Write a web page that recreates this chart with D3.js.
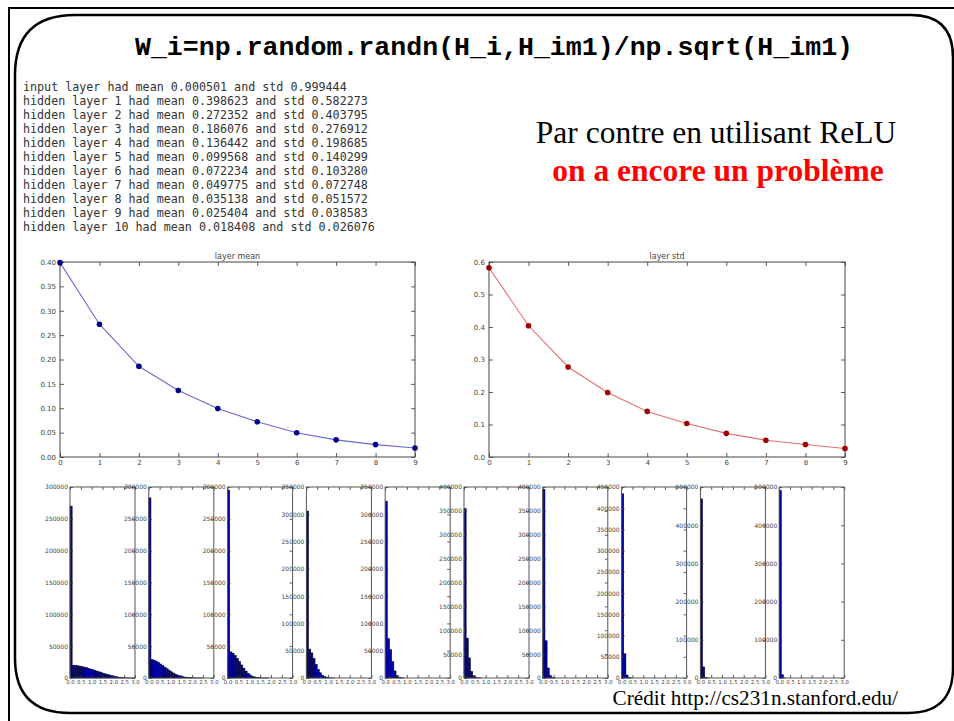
<!DOCTYPE html>
<html><head><meta charset="utf-8">
<script src="https://cdn.jsdelivr.net/npm/d3@7"></script>
<style>body{margin:0;background:#fff}svg{display:block}</style>
</head><body>
<svg id="c" width="954" height="721"></svg>
<script>
// ---------- data ----------
const titleCode = "W_i=np.random.randn(H_i,H_im1)/np.sqrt(H_im1)";
const headline1 = "Par contre en utilisant ReLU";
const headline2 = "on a encore un problème";
const creditText = "Crédit http://cs231n.stanford.edu/";

const inputMean = 0.000501;
const inputStd = 0.999444;
const layerIndex = [0, 1, 2, 3, 4, 5, 6, 7, 8, 9];
const layerNumbers = [1, 2, 3, 4, 5, 6, 7, 8, 9, 10];
const layerMeans = [0.398623, 0.272352, 0.186076, 0.136442, 0.099568, 0.072234, 0.049775, 0.035138, 0.025404, 0.018408];
const layerStds  = [0.582273, 0.403795, 0.276912, 0.198685, 0.140299, 0.103280, 0.072748, 0.051572, 0.038583, 0.026076];

const meanTicks = [0.00, 0.05, 0.10, 0.15, 0.20, 0.25, 0.30, 0.35, 0.40];
const stdTicks = [0.0, 0.1, 0.2, 0.3, 0.4, 0.5, 0.6];
const layerTicks = [0, 1, 2, 3, 4, 5, 6, 7, 8, 9];

const histXTicks = [0.0, 0.5, 1.0, 1.5, 2.0, 2.5, 3.0];
const histBinStarts = [0.0,0.1,0.2,0.3,0.4,0.5,0.6,0.7,0.8,0.9,1.0,1.1,1.2,1.3,1.4,1.5,1.6,1.7,1.8,1.9,2.0,2.1,2.2,2.3,2.4,2.5,2.6,2.7,2.8,2.9];
const histYMax = [300000, 300000, 300000, 350000, 350000, 400000, 400000, 450000, 500000, 500000];
const histYStep = [50000, 50000, 50000, 50000, 50000, 50000, 50000, 50000, 100000, 100000];
const hist1  = [270000,20000,19800,19300,18700,18000,17200,16300,15300,14200,13100,12000,10800,9700,8600,7500,6400,5400,4400,3500,2700,2000,1400,900,500,300,150,80,40,20];
const hist2  = [283000,29000,28000,26500,24500,22000,19500,17000,14500,12000,9800,7800,6000,4500,3300,2300,1600,1000,650,400,250,150,80,40,20,0,0,0,0,0];
const hist3  = [295000,41000,39000,35500,31000,26000,20500,15500,11000,7500,4800,2900,1700,900,450,200,90,40,15,0,0,0,0,0,0,0,0,0,0,0];
const hist4  = [306000,53000,46000,36000,25000,16000,9500,5000,2300,1000,400,150,50,0,0,0,0,0,0,0,0,0,0,0,0,0,0,0,0,0];
const hist5  = [324000,72000,52000,30000,13000,4500,1500,400,100,0,0,0,0,0,0,0,0,0,0,0,0,0,0,0,0,0,0,0,0,0];
const hist6  = [355000,83500,42000,14000,4500,1200,300,80,0,0,0,0,0,0,0,0,0,0,0,0,0,0,0,0,0,0,0,0,0,0];
const hist7  = [395000,78000,21000,5000,900,150,0,0,0,0,0,0,0,0,0,0,0,0,0,0,0,0,0,0,0,0,0,0,0,0];
const hist8  = [434000,57000,7000,800,100,0,0,0,0,0,0,0,0,0,0,0,0,0,0,0,0,0,0,0,0,0,0,0,0,0];
const hist9  = [469000,29000,1800,150,0,0,0,0,0,0,0,0,0,0,0,0,0,0,0,0,0,0,0,0,0,0,0,0,0,0];
const hist10 = [491000,8500,400,0,0,0,0,0,0,0,0,0,0,0,0,0,0,0,0,0,0,0,0,0,0,0,0,0,0,0];
const histCounts = [hist1, hist2, hist3, hist4, hist5, hist6, hist7, hist8, hist9, hist10];

// ---------- drawing ----------
const svg = d3.select("#c");
const TICKFONT = "DejaVu Sans, sans-serif";

// slide frame
svg.append("rect").attr("x", 9).attr("y", 8).attr("width", 980).attr("height", 760)
  .attr("fill", "none").attr("stroke", "#000").attr("stroke-width", 2);
(function () {
  const x0 = 15, y0 = 15, x1 = 953, y1 = 713;
  const tl = 60, tr = 42, br = 45, bl = 55;
  const p = d3.path();
  p.moveTo(x0 + tl, y0);
  p.lineTo(x1 - tr, y0);
  p.quadraticCurveTo(x1, y0, x1, y0 + tr);
  p.lineTo(x1, y1 - br);
  p.quadraticCurveTo(x1, y1, x1 - br, y1);
  p.lineTo(x0 + bl, y1);
  p.quadraticCurveTo(x0, y1, x0, y1 - bl);
  p.lineTo(x0, y0 + tl);
  p.quadraticCurveTo(x0, y0, x0 + tl, y0);
  svg.append("path").attr("d", p.toString()).attr("fill", "none")
    .attr("stroke", "#000").attr("stroke-width", 2.5);
})();

// title
svg.append("text").attr("x", 494).attr("y", 55).attr("text-anchor", "middle")
  .attr("font-family", "Liberation Mono, Courier New, monospace").attr("font-weight", "bold")
  .attr("font-size", 26.6).attr("fill", "#000").text(titleCode);

// console text
const consoleLines = ["input layer had mean " + inputMean.toFixed(6) + " and std " + inputStd.toFixed(6)]
  .concat(layerNumbers.map((n, i) => "hidden layer " + n + " had mean " + layerMeans[i].toFixed(6) + " and std " + layerStds[i].toFixed(6)));
svg.append("g").selectAll("text").data(consoleLines).join("text")
  .attr("x", 23).attr("y", (d, i) => 91 + i * 14)
  .attr("font-family", "DejaVu Sans Mono, monospace").attr("font-size", 11.7)
  .attr("fill", "#333").attr("xml:space", "preserve").style("white-space", "pre").text(d => d);

// headline
svg.append("text").attr("x", 716).attr("y", 143).attr("text-anchor", "middle")
  .attr("font-family", "Liberation Serif, Times New Roman, serif").attr("font-size", 31.5)
  .attr("fill", "#000").text(headline1);
svg.append("text").attr("x", 718).attr("y", 181).attr("text-anchor", "middle")
  .attr("font-family", "Liberation Serif, Times New Roman, serif").attr("font-size", 31.5)
  .attr("font-weight", "bold").attr("fill", "#ff0000").text(headline2);

// credit
svg.append("text").attr("x", 898).attr("y", 705).attr("text-anchor", "end")
  .attr("font-family", "Liberation Serif, Times New Roman, serif").attr("font-size", 21.2)
  .attr("fill", "#000").text(creditText);

function styleAxis(sel, fs) {
  sel.select(".domain").remove();
  sel.selectAll(".tick line").attr("stroke", "#333").attr("stroke-width", 0.8);
  sel.selectAll(".tick text").attr("font-family", TICKFONT).attr("font-size", fs).attr("fill", "#444");
}

function lineChart(box, values, yTicks, fmt, title, lineColor, markColor) {
  const g = svg.append("g");
  const x = d3.scaleLinear().domain([0, 9]).range([box.x0, box.x1]);
  const y = d3.scaleLinear().domain([yTicks[0], yTicks[yTicks.length - 1]]).range([box.y1, box.y0]);
  g.append("g").attr("transform", `translate(0,${box.y1})`)
    .call(d3.axisBottom(x).tickValues(layerTicks).tickFormat(d3.format("d")).tickSizeInner(-4).tickSizeOuter(0).tickPadding(3))
    .call(s => styleAxis(s, 7));
  g.append("g").attr("transform", `translate(0,${box.y0})`)
    .call(d3.axisTop(x).tickValues(layerTicks).tickFormat("").tickSizeInner(-4).tickSizeOuter(0))
    .call(s => styleAxis(s, 7));
  g.append("g").attr("transform", `translate(${box.x0},0)`)
    .call(d3.axisLeft(y).tickValues(yTicks).tickFormat(d3.format(fmt)).tickSizeInner(-4).tickSizeOuter(0).tickPadding(4))
    .call(s => styleAxis(s, 7));
  g.append("g").attr("transform", `translate(${box.x1},0)`)
    .call(d3.axisRight(y).tickValues(yTicks).tickFormat("").tickSizeInner(-4).tickSizeOuter(0))
    .call(s => styleAxis(s, 7));
  g.append("rect").attr("x", box.x0).attr("y", box.y0).attr("width", box.x1 - box.x0).attr("height", box.y1 - box.y0)
    .attr("fill", "none").attr("stroke", "#444").attr("stroke-width", 1);
  g.append("path").datum(values)
    .attr("d", d3.line().x((d, i) => x(layerIndex[i])).y(d => y(d)))
    .attr("fill", "none").attr("stroke", lineColor).attr("stroke-width", 1.1);
  g.append("g").selectAll("circle").data(values).join("circle")
    .attr("cx", (d, i) => x(layerIndex[i])).attr("cy", d => y(d)).attr("r", 2.8)
    .attr("fill", markColor);
  g.append("text").attr("x", (box.x0 + box.x1) / 2).attr("y", box.y0 - 3).attr("text-anchor", "middle")
    .attr("font-family", TICKFONT).attr("font-size", 8).attr("fill", "#444").text(title);
}

lineChart({x0: 60, x1: 415, y0: 262, y1: 457}, layerMeans, meanTicks, ".2f", "layer mean", "#6a6ad0", "#00008b");
lineChart({x0: 489, x1: 845, y0: 262, y1: 457}, layerStds, stdTicks, ".1f", "layer std", "#e07070", "#a00000");

// histograms
const histLeft0 = 70, histStep = 78.8, histW = 65, histTop = 487, histBottom = 678;
histCounts.forEach((counts, k) => {
  const g = svg.append("g");
  const x0 = histLeft0 + k * histStep, x1 = x0 + histW;
  const x = d3.scaleLinear().domain([0, 3]).range([x0, x1]);
  const y = d3.scaleLinear().domain([0, histYMax[k]]).range([histBottom, histTop]);
  const yt = d3.range(0, histYMax[k] + 1, histYStep[k]);
  g.append("g").selectAll("rect").data(counts).join("rect")
    .attr("x", (d, i) => x(histBinStarts[i]))
    .attr("width", x(0.1) - x(0))
    .attr("y", d => y(d))
    .attr("height", d => histBottom - y(d))
    .attr("fill", "#0000a0").attr("stroke", "#000028").attr("stroke-width", 0.5);
  g.append("g").attr("transform", `translate(0,${histBottom})`)
    .call(d3.axisBottom(x).tickValues(histXTicks).tickFormat(d3.format(".1f")).tickSizeInner(-3).tickSizeOuter(0).tickPadding(2))
    .call(s => styleAxis(s, 5.4));
  g.append("g").attr("transform", `translate(0,${histTop})`)
    .call(d3.axisTop(x).tickValues(histXTicks).tickFormat("").tickSizeInner(-3).tickSizeOuter(0))
    .call(s => styleAxis(s, 6));
  g.append("g").attr("transform", `translate(${x0},0)`)
    .call(d3.axisLeft(y).tickValues(yt).tickFormat(d3.format("d")).tickSizeInner(-3).tickSizeOuter(0).tickPadding(2))
    .call(s => styleAxis(s, 6));
  g.append("g").attr("transform", `translate(${x1},0)`)
    .call(d3.axisRight(y).tickValues(yt).tickFormat("").tickSizeInner(-3).tickSizeOuter(0))
    .call(s => styleAxis(s, 6));
  g.append("rect").attr("x", x0).attr("y", histTop).attr("width", histW).attr("height", histBottom - histTop)
    .attr("fill", "none").attr("stroke", "#555").attr("stroke-width", 1);
});
</script>
</body></html>
